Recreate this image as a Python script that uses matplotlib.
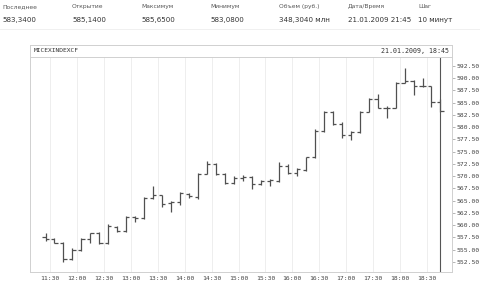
import matplotlib
matplotlib.use("Agg")
import matplotlib.pyplot as plt
import numpy as np

# ---- data ----
times = ["11:25","11:35","11:45","11:55","12:05","12:15","12:25","12:35","12:45","12:55",
         "13:05","13:15","13:25","13:35","13:45","13:55","14:05","14:15","14:25","14:35",
         "14:45","14:55","15:05","15:15","15:25","15:35","15:45","15:55","16:05","16:15",
         "16:25","16:35","16:45","16:55","17:05","17:15","17:25","17:35","17:45","17:55",
         "18:05","18:15","18:25","18:35","18:45"]
opens  = [557.5,557.1,556.4,553.1,555.0,557.2,558.4,556.4,559.6,558.8,
          561.6,561.5,565.5,566.2,564.6,564.7,566.3,565.8,570.5,572.4,
          570.5,568.6,569.6,569.9,568.4,569.1,569.0,572.1,570.7,571.3,
          573.9,579.3,583.1,580.7,578.3,579.0,583.1,585.8,584.0,584.0,
          589.0,589.5,588.3,588.3,585.14]
highs  = [558.4,557.3,556.5,555.3,557.4,558.5,558.6,560.2,559.8,561.9,
          561.9,565.8,568.0,566.2,564.9,566.7,566.6,570.7,573.0,572.7,
          570.7,570.0,570.3,570.0,569.2,569.4,572.8,572.4,571.6,574.0,
          579.7,583.2,583.2,581.0,579.2,583.2,585.9,586.8,584.3,589.2,
          592.0,589.6,590.0,588.4,585.65]
lows   = [556.7,556.3,552.6,553.0,554.8,556.3,556.2,556.2,558.6,558.6,
          560.6,561.3,565.4,563.7,562.7,564.2,565.5,565.4,570.4,570.3,
          568.5,568.5,569.0,567.3,568.3,567.9,568.9,570.5,570.0,571.0,
          573.8,579.1,580.5,577.8,577.3,578.9,583.0,583.9,581.8,583.9,
          588.9,586.6,588.1,584.2,583.08]
closes = [557.2,556.4,553.1,555.0,557.2,558.4,556.4,559.8,558.8,561.75,
          561.5,565.5,566.2,564.3,564.7,566.6,566.0,570.5,572.5,570.5,
          568.6,569.6,569.9,568.4,569.1,569.2,572.1,570.7,571.4,573.9,
          579.3,583.1,580.7,578.3,579.0,583.1,585.8,584.0,584.0,589.0,
          589.5,588.3,588.3,585.2,583.34]
xtick_labels = ["11:30","12:00","12:30","13:00","13:30","14:00","14:30","15:00",
                "15:30","16:00","16:30","17:00","17:30","18:00","18:30"]
ytick_vals = [552.5,555.0,557.5,560.0,562.5,565.0,567.5,570.0,572.5,575.0,
              577.5,580.0,582.5,585.0,587.5,590.0,592.5]
head_labels = ["Последнее","Открытие","Максимум","Минимум","Объем (руб.)","Дата/Время","Шаг"]
head_values = ["583,3400","585,1400","585,6500","583,0800","348,3040 млн","21.01.2009 21:45","10 минут"]
title_left = "MICEXINDEXCF"
title_right = "21.01.2009, 18:45"

def tmin(s):
    h, m = s.split(":")
    return int(h) * 60 + int(m)

t = np.array([tmin(s) for s in times], dtype=float)
xt = np.array([tmin(s) for s in xtick_labels], dtype=float)

W, H = 480, 284
fig = plt.figure(figsize=(W/100, H/100), dpi=100)
fig.patch.set_facecolor("white")

# top table
xs = [2, 72, 141, 210, 279, 348, 418]
for x, lab, val in zip(xs, head_labels, head_values):
    fig.text(x/W, 1 - 6.5/H, lab, fontsize=4.3, color="#555555", va="center", ha="left",
             family="DejaVu Sans")
    fig.text(x/W, 1 - 20/H, val, fontsize=5.1, color="#333333", va="center", ha="left",
             family="DejaVu Sans")
fig.add_artist(plt.Line2D([0, 1], [1 - 29/H, 1 - 29/H], color="#eeeeee", lw=0.6))

# header strip of chart panel
L, R = 30, 452
hax = fig.add_axes([L/W, (H-57)/H, (R-L)/W, 12/H])
hax.set_xticks([]); hax.set_yticks([])
for sp in hax.spines.values():
    sp.set_color("#d0d0d0"); sp.set_linewidth(0.7)
hax.text(0.008, 0.5, title_left, transform=hax.transAxes, fontsize=4.5, va="center",
         ha="left", color="#333333", family="DejaVu Sans Mono")
hax.text(0.993, 0.5, title_right, transform=hax.transAxes, fontsize=4.8, va="center",
         ha="right", color="#333333", family="DejaVu Sans Mono")

ax = fig.add_axes([L/W, (H-272)/H, (R-L)/W, (272-57)/H])
x0 = 11*60 + 30 - 20/26.93*30
x1 = 18*60 + 30 + 25/26.93*30
ax.set_xlim(x0, x1)
ax.set_ylim(550.46, 594.3)

for xv in xt:
    ax.axvline(xv, color="#eeeeee", lw=0.7, zorder=0)

col = "#505050"
tick_len = 3.5
ax.vlines(t, lows, highs, color=col, lw=0.9)
ax.hlines(opens, t - tick_len, t, color=col, lw=0.9)
ax.hlines(closes, t, t + tick_len, color=col, lw=0.9)
ax.axvline(t[-1], color="#555555", lw=0.8)

ax.set_xticks(xt)
ax.set_xticklabels(xtick_labels, fontsize=4.6, color="#444444", family="DejaVu Sans Mono")
ax.yaxis.tick_right()
ax.set_yticks(ytick_vals)
ax.set_yticklabels([f"{v:.2f}" for v in ytick_vals], fontsize=4.6, color="#444444",
                   family="DejaVu Sans Mono")
ax.tick_params(axis="x", length=0, pad=3)
ax.tick_params(axis="y", length=2, width=0.5, color="#999999", pad=1.5)
for sp in ax.spines.values():
    sp.set_color("#d0d0d0"); sp.set_linewidth(0.7)

fig.savefig("out.png", dpi=100, facecolor="white")
